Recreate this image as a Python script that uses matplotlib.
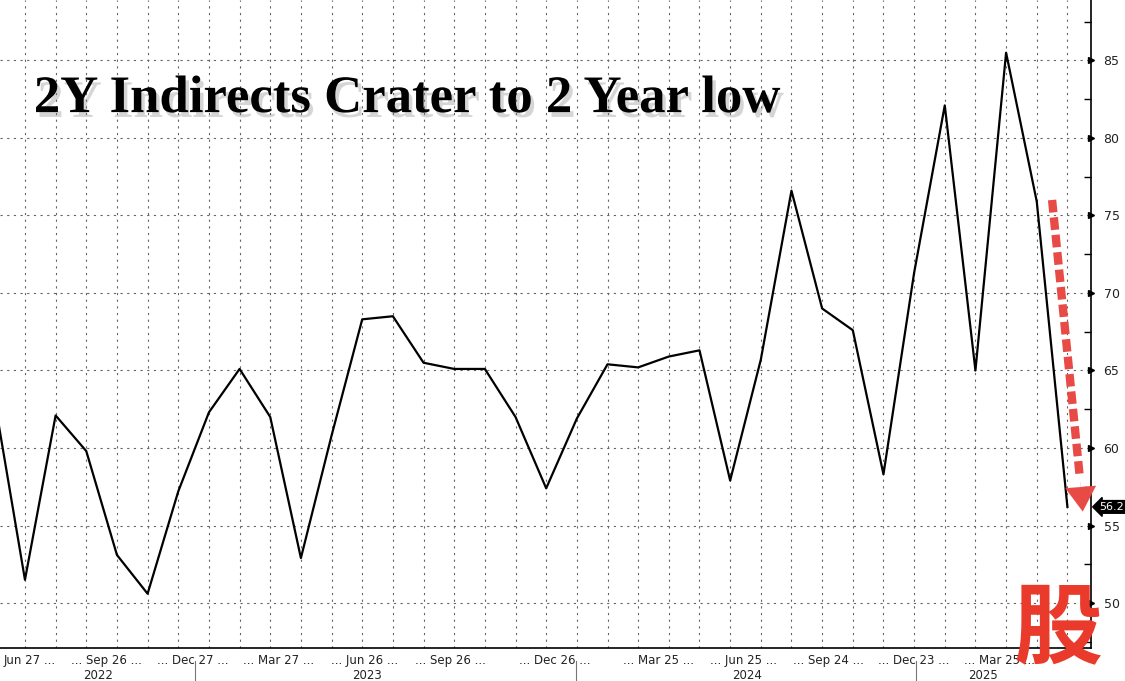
import numpy as np
import matplotlib.pyplot as plt
import matplotlib.patheffects as pe

# 2Y auction indirect bidders (%), monthly, Apr 2022 .. Mar 2025
indirects = [63.2, 51.5, 62.1, 59.8, 53.1, 50.6, 57.2, 62.3,
             65.1, 62.0, 52.9, 60.8, 68.3, 68.5, 65.5, 65.1, 65.1, 62.0, 57.4, 61.9,
             65.4, 65.2, 65.9, 66.3, 57.9, 65.7, 76.6, 69.0, 67.6, 58.3, 71.3, 82.1,
             65.0, 85.5, 75.9, 56.2]
x = np.arange(len(indirects))

date_labels = ["Jun 27 ...", "... Sep 26 ...", "... Dec 27 ...", "... Mar 27 ...",
               "... Jun 26 ...", "... Sep 26 ...", "... Dec 26 ...", "... Mar 25 ...",
               "... Jun 25 ...", "... Sep 24 ...", "... Dec 23 ...", "... Mar 25 ..."]
date_pos = [1.16, 3.67, 6.48, 9.28, 12.09, 14.89, 18.29, 21.65, 24.45, 27.2, 30.0, 32.8]
years = ["2022", "2023", "2024", "2025"]
year_pos = [3.4, 12.15, 24.55, 32.25]
year_breaks = [6.55, 18.97, 30.06]

fig = plt.figure(figsize=(11.25, 6.81), dpi=100)
ax = fig.add_axes([0.0, 0.0485, 0.9698, 0.9515])

ax.plot(x, indirects, color='black', lw=1.6, zorder=3)

ax.set_xlim(0.186, 35.77)
ax.set_ylim(47.1, 88.9)

# grid: one vertical line per auction, horizontal every 5
for xi in x:
    ax.axvline(xi, color='#666666', lw=0.8, ls=(0, (2, 4)), zorder=1)
for yv in range(50, 90, 5):
    ax.axhline(yv, color='#666666', lw=0.8, ls=(0, (2, 4)), zorder=1)

for s in ['top', 'left']:
    ax.spines[s].set_visible(False)
ax.spines['right'].set_linewidth(1.2)
ax.spines['bottom'].set_linewidth(1.2)

ax.yaxis.tick_right()
ax.set_yticks(range(50, 90, 5))
ax.set_yticks(np.arange(47.5, 90, 5), minor=True)
ax.tick_params(axis='y', which='major', length=0, pad=9, labelsize=9, labelcolor='#222222')
ax.tick_params(axis='y', which='minor', length=5, width=1, direction='in')
# small pointer marks on the major ticks
for yv in range(50, 90, 5):
    ax.plot([1.0], [yv], marker='>', color='black', markersize=5,
            transform=ax.get_yaxis_transform(), clip_on=False, zorder=4)

ax.set_xticks(date_pos)
ax.set_xticklabels(date_labels, fontsize=8.5, color='#222222')
ax.tick_params(axis='x', length=0, pad=4)

for yr, p in zip(years, year_pos):
    ax.text(p, -0.043, yr, transform=ax.get_xaxis_transform(), ha='center',
            va='center', fontsize=8.5, color='#222222')
for b in year_breaks:
    ax.plot([b, b], [-0.02, -0.06], transform=ax.get_xaxis_transform(),
            color='#777777', lw=0.8, clip_on=False)

# last value tag
ax.annotate(f"{indirects[-1]}", xy=(1.0, indirects[-1]), xycoords=ax.get_yaxis_transform(),
            xytext=(6, 0), textcoords='offset points', ha='left', va='center',
            fontsize=8, color='white', annotation_clip=False,
            bbox=dict(boxstyle='larrow,pad=0.12', fc='black', ec='black'))

# title
ax.text(0.031, 0.827, "2Y Indirects Crater to 2 Year low", transform=ax.transAxes,
        fontsize=38, fontweight='bold', family='Liberation Serif', color='black',
        va='baseline',
        path_effects=[pe.withSimplePatchShadow(offset=(2.5, -3.5), shadow_rgbFace='#777777', alpha=0.3)])

# red dashed arrow
ax.plot([34.5, 35.4], [76.0, 58.2], color='#e84a45', lw=6, ls=(0, (1.5, 0.6)),
        solid_capstyle='butt', dash_capstyle='butt', zorder=5)
ax.annotate("", xy=(35.5, 55.9), xytext=(35.42, 57.8),
            arrowprops=dict(arrowstyle='-|>,head_width=0.5,head_length=0.8',
                            mutation_scale=22, color='#e84a45', lw=0.1,
                            shrinkA=0, shrinkB=0), zorder=5)

# watermark
fig.text(0.9404, 0.075, "股", family=['Noto Sans CJK SC', 'DejaVu Sans'], fontsize=64,
         fontweight='bold', color='#ea3a2c', ha='center', va='center')

fig.savefig('out.png', dpi=100)
